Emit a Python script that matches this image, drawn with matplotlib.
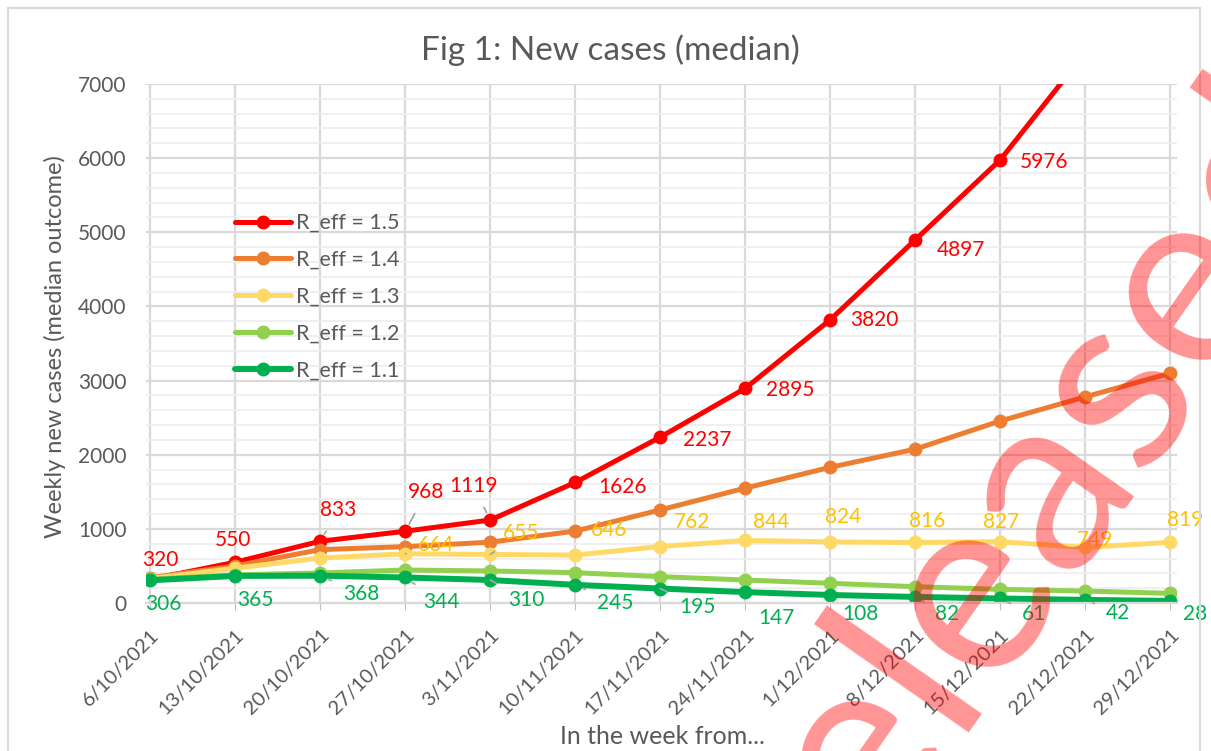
import numpy as np
import matplotlib
matplotlib.use('Agg')
import matplotlib.pyplot as plt
from matplotlib.patches import Rectangle

plt.rcParams['font.family'] = ['Lato', 'DejaVu Sans']

weeks = ['6/10/2021', '13/10/2021', '20/10/2021', '27/10/2021', '3/11/2021',
         '10/11/2021', '17/11/2021', '24/11/2021', '1/12/2021', '8/12/2021',
         '15/12/2021', '22/12/2021', '29/12/2021']

r15 = [320, 550, 833, 968, 1119, 1626, 2237, 2895, 3820, 4897, 5976, 7420, 9200]
r14 = [340, 500, 720, 760, 820, 970, 1255, 1550, 1830, 2075, 2455, 2780, 3100]
r13 = [330, 470, 607, 664, 655, 646, 762, 844, 824, 816, 827, 749, 819]
r12 = [320, 380, 405, 445, 432, 409, 355, 310, 266, 220, 184, 161, 130]
r11 = [306, 365, 368, 344, 310, 245, 195, 147, 108, 82, 61, 42, 28]

series_names = ['R_eff = 1.5', 'R_eff = 1.4', 'R_eff = 1.3', 'R_eff = 1.2', 'R_eff = 1.1']

# which points get a data label (index lists)
r15_labelled = list(range(11))
r13_labelled = list(range(3, 13))
r11_labelled = list(range(13))

colors = ['#FF0000', '#ED7D31', '#FFD966', '#92D050', '#00B050']
label_colors = {'r15': '#FF0000', 'r13': '#FFC000', 'r11': '#00B050'}
txt_grey = '#595959'

# label offsets in pixels (dx, dy up) and whether a leader line is drawn
r15_off = [(10, 19, 0), (-2, 22, 0), (18, 31, 1), (21, 39, 1), (-17, 34, 1),
           (47, -5, 0), (47, -3, 0), (45, -2, 0), (44, 0, 0), (46, -10, 0), (44, -2, 0)]
r13_off = [(31, 9, 1), (31, 21, 1), (34, 25, 0), (32, 25, 0), (26, 18, 0), (13, 25, 0),
           (12, 21, 0), (1, 20, 0), (10, 7, 0), (15, 22, 0)]
r11_off = [(13, -24, 0), (20, -24, 0), (41, -18, 1), (36, -25, 1), (36, -20, 1),
           (40, -18, 1), (37, -18, 1), (31, -26, 0), (30, -19, 0), (32, -17, 1),
           (34, -16, 1), (33, -13, 1), (25, -13, 0)]

fig = plt.figure(figsize=(12.11, 7.51), dpi=100)
ax = fig.add_axes([146 / 1211, 1 - 603 / 751, 1031 / 1211, 519 / 751])

x = np.arange(len(weeks))

# chart area border
fig.patches.append(Rectangle((8 / 1211, -0.1), 1192 / 1211, 1.1 - 8 / 751,
                             transform=fig.transFigure, fill=False,
                             edgecolor='#D9D9D9', linewidth=1.5))

for vals, c, name in zip([r15, r14, r13, r12, r11], colors, series_names):
    lw = 4.3 if name.endswith('1.1') else 3.6
    ax.plot(x, vals, color=c, linewidth=lw, marker='o', markersize=9,
            label=name, solid_capstyle='round', clip_on=True)

ax.set_xlim(-0.05, 12.08)
ax.set_ylim(0, 7000)
ax.set_yticks(np.arange(0, 7001, 1000))
ax.set_yticks(np.arange(0, 7001, 200), minor=True)
ax.set_xticks(x)
ax.set_xticklabels(weeks, rotation=45, ha='right', rotation_mode='anchor',
                   fontsize=14.5, color=txt_grey)
ax.tick_params(axis='x', length=5, color='#BFBFBF', pad=12)
ax.tick_params(axis='y', which='both', length=0, pad=14, labelsize=15,
               labelcolor=txt_grey)
ax.grid(axis='y', which='major', color='#D9D9D9', linewidth=1.6)
ax.grid(axis='y', which='minor', color='#EDEDED', linewidth=1.2)
ax.grid(axis='x', which='major', color='#D9D9D9', linewidth=1.6)
ax.set_axisbelow(True)
for s in ['top', 'right', 'left']:
    ax.spines[s].set_visible(False)
ax.spines['bottom'].set_color('#D9D9D9')
ax.spines['bottom'].set_linewidth(1.6)


def add_labels(vals, idxs, offs, color):
    for i, (dx, dy, lead) in zip(idxs, offs):
        kw = {}
        if lead:
            kw['arrowprops'] = dict(arrowstyle='-', color='#A6A6A6', lw=1.3,
                                    shrinkA=7, shrinkB=6)
        ax.annotate(str(vals[i]), (x[i], vals[i]), xytext=(dx * 0.72, dy * 0.72),
                    textcoords='offset points', ha='center', va='center',
                    fontsize=15, color=color, annotation_clip=False, **kw)


add_labels(r15, r15_labelled, r15_off, label_colors['r15'])
add_labels(r13, r13_labelled, r13_off, label_colors['r13'])
add_labels(r11, r11_labelled, r11_off, label_colors['r11'])

leg = ax.legend(loc='upper left', bbox_to_anchor=(0.076, 0.772), frameon=False,
                fontsize=15.5, handlelength=2.6, handletextpad=0.25,
                labelspacing=0.78, borderpad=0)
for t in leg.get_texts():
    t.set_color(txt_grey)

fig.text(610 / 1211, 1 - 50 / 751, 'Fig 1: New cases (median)', ha='center',
         va='center', fontsize=24, color=txt_grey)
fig.text(55 / 1211, 1 - 347 / 751, 'Weekly new cases (median outcome)',
         rotation=90, ha='center', va='center', fontsize=17, color=txt_grey)
fig.text(662 / 1211, 1 - 737 / 751, 'In the week from...', ha='center',
         va='center', fontsize=18, color=txt_grey)

# watermark
fig.text(1010 / 1211, 1 - 515 / 751, 'Released', rotation=55, ha='center',
         va='center', fontsize=185, color='#FF0000', alpha=0.42, zorder=10)

fig.savefig('out.png', dpi=100)
